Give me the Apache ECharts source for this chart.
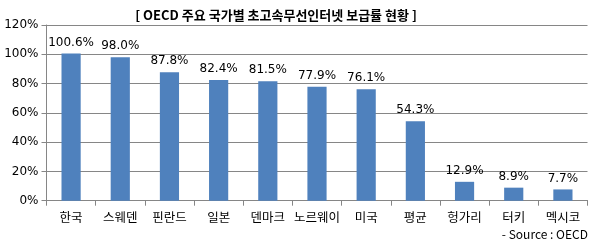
<!DOCTYPE html>
<html><head><meta charset="utf-8">
<script src="https://cdn.jsdelivr.net/npm/echarts@6/dist/echarts.min.js"></script>
<style>html,body{margin:0;padding:0;background:#fff}#c{width:593px;height:244px}</style>
</head><body><div id="c"></div>
<script>
const categories = ['한국','스웨덴','핀란드','일본','덴마크','노르웨이','미국','평균','헝가리','터키','멕시코'];
const values = [100.6, 98.0, 87.8, 82.4, 81.5, 77.9, 76.1, 54.3, 12.9, 8.9, 7.7];
const yTicks = [0, 20, 40, 60, 80, 100, 120];
const titleText = '[ OECD 주요 국가별 초고속무선인터넷 보급률 현황 ]';
const sourceText = '- Source : OECD';

const chart = echarts.init(document.getElementById('c'));
const font = '"Noto Sans CJK KR", "DejaVu Sans", sans-serif';
chart.setOption({
  animation: false,
  graphic: [
    {type: 'text', x: 276, y: 15,
      style: {text: titleText, fontSize: 13, fontWeight: 'bold', fill: '#000', fontFamily: font,
        align: 'center', verticalAlign: 'middle'}},
    {type: 'text', x: 588, y: 234,
      style: {text: sourceText, fontSize: 12, fill: '#000', fontFamily: font,
        align: 'right', verticalAlign: 'middle'}}],
  grid: {left: 46.5, right: 5.5, top: 25, bottom: 43.3},
  xAxis: {type: 'category', data: categories,
    axisLine: {lineStyle: {color: '#868686'}},
    axisTick: {show: true, length: 5, lineStyle: {color: '#868686'}},
    axisLabel: {interval: 0, color: '#000', fontSize: 12.5, margin: 10, fontFamily: font}},
  yAxis: {type: 'value', min: yTicks[0], max: yTicks[yTicks.length-1], interval: 20,
    axisLine: {show: true, lineStyle: {color: '#868686'}},
    axisTick: {show: true, length: 5, lineStyle: {color: '#868686'}},
    splitLine: {lineStyle: {color: '#868686'}},
    axisLabel: {formatter: '{value}%', color: '#000', fontSize: 12, margin: 8, fontFamily: '"DejaVu Sans", sans-serif'}},
  series: [{type: 'bar', data: values, barWidth: '39%',
    itemStyle: {color: '#4F81BD'},
    label: {show: true, position: 'top', distance: 5, color: '#000', fontSize: 12,
      fontFamily: '"DejaVu Sans", sans-serif',
      formatter: p => p.value.toFixed(1) + '%'}}]
});
</script></body></html>
